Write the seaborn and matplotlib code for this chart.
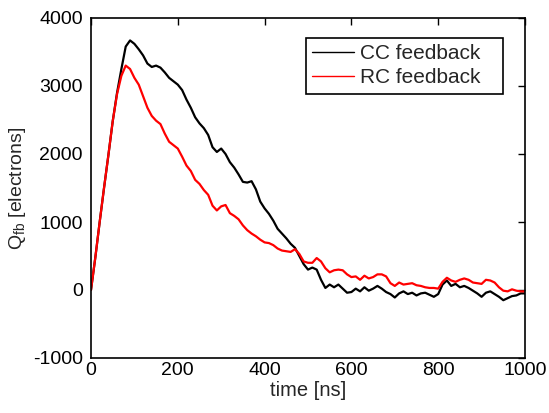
import numpy as np
import pandas as pd
import matplotlib
matplotlib.use("Agg")
import matplotlib.pyplot as plt
import seaborn as sns
from matplotlib.lines import Line2D

time_ns = list(range(0, 1001, 10))

cc_feedback = [
    0, 480, 1000, 1500, 1980, 2480, 2900, 3250, 3580, 3670,
    3620, 3540, 3450, 3330, 3280, 3300, 3270, 3200, 3120, 3070,
    3020, 2940, 2800, 2680, 2540, 2450, 2380, 2280, 2100, 2030,
    2080, 2000, 1880, 1800, 1700, 1590, 1580, 1600, 1480, 1300,
    1200, 1120, 1020, 900, 830, 760, 680, 620, 500, 380,
    300, 330, 300, 150, 30, 80, 40, 80, 20, -40,
    -30, 20, -20, 40, -10, 20, 60, 20, -30, -60,
    -110, -50, -20, -60, -40, -80, -50, -40, -70, -100,
    -60, 80, 140, 60, 90, 40, 60, 30, -10, -50,
    -100, -40, -20, -60, -100, -150, -120, -90, -80, -50,
    -50,
]

rc_feedback = [
    0, 480, 1000, 1500, 1980, 2480, 2880, 3150, 3300, 3250,
    3120, 3020, 2850, 2680, 2560, 2490, 2440, 2300, 2180, 2130,
    2080, 1960, 1830, 1750, 1620, 1560, 1470, 1400, 1240, 1170,
    1230, 1250, 1130, 1090, 1040, 950, 880, 830, 790, 740,
    700, 690, 660, 610, 580, 570, 560, 600, 530, 420,
    400, 400, 470, 420, 320, 260, 290, 300, 290, 230,
    190, 200, 150, 210, 170, 190, 230, 230, 200, 100,
    60, 110, 80, 90, 100, 70, 60, 40, 30, 30,
    20, 120, 180, 140, 120, 150, 170, 150, 110, 100,
    90, 150, 140, 110, 40, -10, -20, 10, -10, -20,
    -20,
]

x_ticks = [0, 200, 400, 600, 800, 1000]
y_ticks = [-1000, 0, 1000, 2000, 3000, 4000]

sns.set_style("white")
plt.rcParams["font.family"] = ["Liberation Sans", "DejaVu Sans"]
plt.rcParams["mathtext.fontset"] = "custom"
plt.rcParams["mathtext.rm"] = "Liberation Sans"
plt.rcParams["mathtext.it"] = "Liberation Sans"
plt.rcParams["axes.unicode_minus"] = False

df = pd.DataFrame({
    "time": time_ns * 2,
    "Q": cc_feedback + rc_feedback,
    "series": ["CC feedback"] * len(time_ns) + ["RC feedback"] * len(time_ns),
})

fig = plt.figure(figsize=(5.49, 4.13), dpi=100)
ax = fig.add_axes([91 / 549, 1 - 358 / 413, (525 - 91) / 549, (358 - 18) / 413])

sns.lineplot(data=df, x="time", y="Q", hue="series",
             palette={"CC feedback": "black", "RC feedback": "red"},
             linewidth=1.6, ax=ax, legend=False)

ax.set_xlim(0, 1000)
ax.set_ylim(-1000, 4000)
ax.set_xticks(x_ticks)
ax.set_yticks(y_ticks)
ax.tick_params(direction="in", length=5, width=1, top=True, right=True,
               labelsize=14, colors="black")
ax.tick_params(axis="y", pad=6)
ax.tick_params(axis="x", pad=3)
for s in ax.spines.values():
    s.set_color("black")
    s.set_linewidth(1.2)
    s.set_visible(True)

ax.set_xlabel("time [ns]", fontsize=14.5, labelpad=1)
ax.set_ylabel(r"Q$_{\mathrm{fb}}$ [electrons]", fontsize=14, labelpad=3)

handles = [Line2D([0], [0], color="black", lw=1.0),
           Line2D([0], [0], color="red", lw=1.0)]
x0 = (306 - 91) / 434
w = (503 - 306) / 434
y0 = (358 - 99) / 340
h = (99 - 38) / 340
leg = ax.legend(handles, ["CC feedback", "RC feedback"], loc="upper left",
                bbox_to_anchor=(x0, y0, w, h), mode="expand",
                fontsize=15, frameon=True,
                fancybox=False, framealpha=1, edgecolor="black",
                handlelength=2.0, handletextpad=0.3, borderpad=0.3,
                labelspacing=0.25, borderaxespad=0)
leg.get_frame().set_linewidth(1.2)

fig.savefig("out.png", dpi=100)
